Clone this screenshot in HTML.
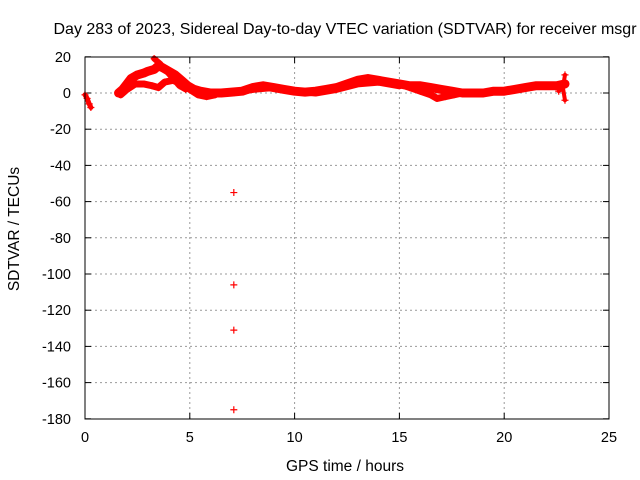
<!DOCTYPE html>
<html><head><meta charset="utf-8"><style>
body{margin:0;background:#fff}
svg{display:block;font-family:"Liberation Sans",sans-serif}
</style></head><body>
<svg id="chart" width="640" height="480">
<text x="345" y="34" font-size="16" text-anchor="middle">Day 283 of 2023, Sidereal Day-to-day VTEC variation (SDTVAR) for receiver msgr</text>
<text x="345" y="471" font-size="15.5" text-anchor="middle">GPS time / hours</text>
<text transform="translate(19,229) rotate(-90)" font-size="15.5" text-anchor="middle">SDTVAR / TECUs</text>
<g id="grid"></g><g id="ticks"></g><g id="marks"></g>
<rect x="85" y="57" width="524" height="362" fill="none" stroke="#000" stroke-width="1"/>
</svg>
<script>
const xTicks=[0,5,10,15,20,25];
const yTicks=[20,0,-20,-40,-60,-80,-100,-120,-140,-160,-180];
const trackStartHours=[0,0.1,0.2,0.28];
const trackStartVals=[-1,-3,-6,-8];
const upperHours=[1.6,1.8,2,2.2,2.5,2.8,3.0,3.3,3.5,3.7,4.0,4.3,4.6,4.9,5.2,5.5,6,6.5,7,7.5,8,8.5,9,9.5,10,10.5,11,11.5,12,12.5,13,13.5,14,14.5,15,15.5,16,16.5,17,17.5,18,18.5,19,19.5,20,20.5,21,21.5,22,22.5,22.9];
const upperVals=[0,2,5,8,10,11,12,13,15,14,12,10,7,4,2,1,0,0,0.5,1,3,4,3,2,1,0.5,1,2,3,5,7,8,7,6,5,4,4,3,2,1,0,0,0,1,1,2,3,4,4,4,5];
const lowerHours=[1.7,2.0,2.4,2.8,3.2,3.5,3.8,4.2,4.6,5.0,5.4,5.8,6.2];
const lowerVals=[-1,2,5,5,4,3,6,7,5,2,-1,-2,-1];
const secondHours=[7,8,9,10,11,12,13,14,15];
const secondVals=[0,2,3,1,0,2,5,6,4];
const branchHours=[3.3,3.6,3.9,4.2,4.5,4.8];
const branchVals=[19,16,12,8,4,2];
const dipHours=[15,15.5,16,16.5,16.8,17.2,17.6,18];
const dipVals=[5,3,1,-1,-3,-2,-1,0];
const spikeHours=[22.6,22.8,22.9,22.9,23.0];
const spikeVals=[1,3,10,-4,6];
const outlierHours=[7.1,7.1,7.1,7.1];
const outlierVals=[-55,-106,-131,-175];
const X=h=>85+h*(524/25);
const Y=v=>93-v*(362/200);
const NS='http://www.w3.org/2000/svg';
const grid=document.getElementById('grid'),ticks=document.getElementById('ticks'),marks=document.getElementById('marks');
function mk(t,a,p){const e=document.createElementNS(NS,t);for(const k in a)e.setAttribute(k,a[k]);p.appendChild(e);return e;}
xTicks.forEach(t=>{
 if(t>0&&t<25){const g=mk('line',{x1:X(t),x2:X(t),y1:57,y2:419,stroke:'#999','stroke-dasharray':'2,3'},grid);
 
 }
 mk('line',{x1:X(t),x2:X(t),y1:419,y2:413,stroke:'#000'},ticks);
 mk('line',{x1:X(t),x2:X(t),y1:57,y2:63,stroke:'#000'},ticks);
 const l=mk('text',{x:X(t),y:442,'font-size':14.5,'text-anchor':'middle'},ticks);l.textContent=t;
 
 
});
yTicks.forEach(t=>{
 if(t<20&&t>-180){const g=mk('line',{x1:85,x2:609,y1:Y(t),y2:Y(t),stroke:'#999','stroke-dasharray':'2,3'},grid);
 
 }
 mk('line',{x1:85,x2:91,y1:Y(t),y2:Y(t),stroke:'#000'},ticks);
 mk('line',{x1:609,x2:603,y1:Y(t),y2:Y(t),stroke:'#000'},ticks);
 const l=mk('text',{x:71,y:Y(t)+5,'font-size':14.5,'text-anchor':'end'},ticks);l.textContent=t;
 
 
});
function band(hs,vs,name,w){
 const d=hs.map((h,i)=>(i?'L':'M')+X(h)+' '+Y(vs[i])).join('');
 const p=mk('path',{d:d,fill:'none',stroke:'#f00','stroke-width':w,'stroke-linejoin':'round','stroke-linecap':'round'},marks);
 
 
 pts(hs,vs,name+'-point');
}
function pts(hs,vs,name){
 hs.forEach((h,i)=>{const x=X(h),y=Y(vs[i]);
  const p=mk('path',{d:`M${x-3.5} ${y}H${x+3.5}M${x} ${y-3.5}V${y+3.5}`,stroke:'#f00','stroke-width':1.2},marks);
  
  });
}
band(trackStartHours,trackStartVals,'series-start',5);
band(upperHours,upperVals,'series-upper',9);
band(secondHours,secondVals,'series-second',7);
band(lowerHours,lowerVals,'series-lower',7);
band(branchHours,branchVals,'series-branch',6);
band(dipHours,dipVals,'series-dip',7);
band(spikeHours.slice(0,3),spikeVals.slice(0,3),'series-spike-up',4);
band([22.8,22.9],[3,-4],'series-spike-down',4);
pts(outlierHours,outlierVals,'outlier-point');
</script>
</body></html>
